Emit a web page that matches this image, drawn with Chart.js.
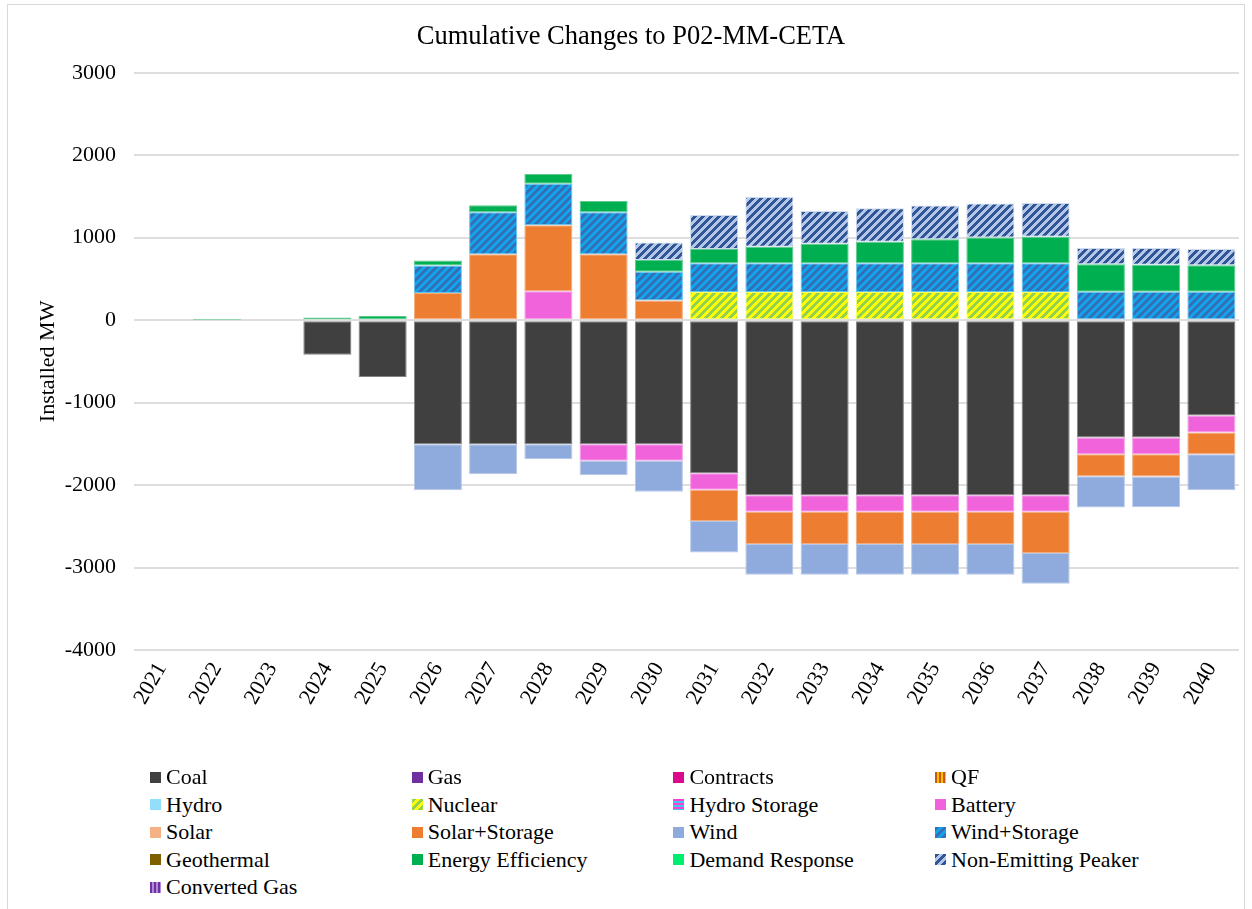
<!DOCTYPE html>
<html lang="en">
<head>
<meta charset="UTF-8">
<title>Cumulative Changes to P02-MM-CETA</title>
<script src="https://cdn.jsdelivr.net/npm/chart.js@4.4.0/dist/chart.umd.min.js"></script>
<style>
    html, body { margin: 0; padding: 0; background: #fff; }
    body { width: 1252px; height: 909px; overflow: hidden; position: relative; font-family: "Liberation Serif", "DejaVu Serif", serif; }
    #frame { position: absolute; left: 7px; top: 4px; width: 1236px; height: 912px; border: 1px solid #d9d9d9; }
    #chart-box { position: absolute; left: 0; top: 0; width: 1236px; height: 760px; }
    .legend-item { position: absolute; height: 24px; line-height: 24px; display: flex; align-items: center; font-size: 22px; color: #000; white-space: nowrap; }
    .legend-item canvas { width: 11px; height: 11px; margin-right: 5px; }
</style>
</head>
<body>
<div id="frame">
    <div id="chart-box"><canvas id="changes-chart"></canvas></div>
    <div id="legend"></div>
</div>
<script>
// Jahre (Kategorien)
const years = ['2021', '2022', '2023', '2024', '2025', '2026', '2027', '2028', '2029', '2030',
               '2031', '2032', '2033', '2034', '2035', '2036', '2037', '2038', '2039', '2040'];

// Kumulierte Änderungen in MW je Ressource
const coal          = [0, 0, 0, -420, -690, -1505, -1505, -1505, -1505, -1505, -1857, -2124, -2124, -2124, -2124, -2124, -2124, -1424, -1424, -1157];
const gas           = [0, 0, 0, 0, 0, 0, 0, 0, 0, 0, 0, 0, 0, 0, 0, 0, 0, 0, 0, 0];
const contracts     = [0, 0, 0, 0, 0, 0, 0, 0, 0, 0, 0, 0, 0, 0, 0, 0, 0, 0, 0, 0];
const qf            = [0, 0, 0, 0, 0, 0, 0, 0, 0, 0, 0, 0, 0, 0, 0, 0, 0, 0, 0, 0];
const hydro         = [0, 0, 0, 0, 0, 0, 0, 0, 0, 0, 0, 0, 0, 0, 0, 0, 0, 0, 0, 0];
const nuclear       = [0, 0, 0, 0, 0, 0, 0, 0, 0, 0, 343, 343, 343, 343, 343, 343, 343, 0, 0, 0];
const hydroStorage  = [0, 0, 0, 0, 0, 0, 0, 0, 0, 0, 0, 0, 0, 0, 0, 0, 0, 0, 0, 0];
const battery       = [0, 0, 0, 0, 0, 0, 0, 350, -200, -200, -200, -200, -200, -200, -200, -200, -200, -202, -202, -206];
const solar         = [0, 0, 0, 0, 0, 0, 0, 0, 0, 0, 0, 0, 0, 0, 0, 0, 0, 0, 0, 0];
const solarStorage  = [0, 0, 0, 0, 0, 331, 800, 800, 800, 240, -380, -390, -390, -390, -390, -390, -500, -267, -271, -263];
const wind          = [0, 0, 0, 0, 0, -558, -364, -178, -174, -376, -381, -372, -372, -372, -372, -372, -372, -380, -372, -437];
const windStorage   = [0, 0, 0, 0, 0, 333, 510, 505, 510, 348, 347, 347, 347, 347, 347, 347, 347, 345, 345, 345];
const geothermal    = [0, 0, 0, 0, 0, 0, 0, 0, 0, 0, 0, 0, 0, 0, 0, 0, 0, 0, 0, 0];
const efficiency    = [0, 2, 10, 32, 50, 60, 85, 118, 136, 142, 172, 200, 236, 262, 290, 314, 322, 332, 328, 320];
const demandResp    = [0, 0, 0, 0, 0, 0, 0, 0, 0, 0, 0, 0, 0, 0, 0, 0, 0, 0, 0, 0];
const peaker        = [0, 0, 0, 0, 0, 0, 0, 0, 0, 213, 412, 603, 397, 406, 410, 410, 410, 198, 202, 198];
const convertedGas  = [0, 0, 0, 0, 0, 0, 0, 0, 0, 0, 0, 0, 0, 0, 0, 0, 0, 0, 0, 0];

// Achsenbereich
const yMin = -4000;
const yMax = 3000;
const yStep = 1000;

const FONT = '"Liberation Serif", "Times New Roman", serif';

// Reihen in Stapel-/Legendenreihenfolge mit Füllung
const series = [
    { name: 'Coal',                values: coal,         fill: { type: 'solid', color: '#404040' } },
    { name: 'Gas',                 values: gas,          fill: { type: 'solid', color: '#7030A0' } },
    { name: 'Contracts',           values: contracts,    fill: { type: 'solid', color: '#DB0A8C' } },
    { name: 'QF',                  values: qf,           fill: { type: 'vert',  a: '#C55A11', b: '#FFC000' } },
    { name: 'Hydro',               values: hydro,        fill: { type: 'solid', color: '#93DFFB' } },
    { name: 'Nuclear',             values: nuclear,      fill: { type: 'diag',  a: '#92D050', b: '#FFFF00' } },
    { name: 'Hydro Storage',       values: hydroStorage, fill: { type: 'horiz', a: '#FF40D0', b: '#3FC8F5' } },
    { name: 'Battery',             values: battery,      fill: { type: 'solid', color: '#F163DB' } },
    { name: 'Solar',               values: solar,        fill: { type: 'solid', color: '#F4B183' } },
    { name: 'Solar+Storage',       values: solarStorage, fill: { type: 'solid', color: '#ED7D31' } },
    { name: 'Wind',                values: wind,         fill: { type: 'solid', color: '#8FAADC' } },
    { name: 'Wind+Storage',        values: windStorage,  fill: { type: 'diag',  a: '#3270B8', b: '#12A3EA' } },
    { name: 'Geothermal',          values: geothermal,   fill: { type: 'solid', color: '#7F6000' } },
    { name: 'Energy Efficiency',   values: efficiency,   fill: { type: 'solid', color: '#00B050' } },
    { name: 'Demand Response',     values: demandResp,   fill: { type: 'solid', color: '#00EE70' } },
    { name: 'Non-Emitting Peaker', values: peaker,       fill: { type: 'diag',  a: '#2F5597', b: '#B4C7E7' } },
    { name: 'Converted Gas',       values: convertedGas, fill: { type: 'vert',  a: '#7030A0', b: '#B18BDB' } }
];

// Farbe mit Weiß mischen (für die hellen Balkenränder)
function lighten(hex, t) {
    const n = parseInt(hex.slice(1), 16);
    const r = (n >> 16) & 255, g = (n >> 8) & 255, b = n & 255;
    const mix = c => Math.round(c + (255 - c) * t);
    return `rgb(${mix(r)}, ${mix(g)}, ${mix(b)})`;
}

// Muster-Kachel erzeugen (Schraffur wie in Excel)
function makeFill(ctx, fill) {
    if (fill.type === 'solid') return fill.color;
    const tile = document.createElement('canvas');
    tile.width = 8;
    tile.height = 8;
    const t = tile.getContext('2d');
    for (let y = 0; y < 8; y++) {
        for (let x = 0; x < 8; x++) {
            let useA;
            if (fill.type === 'diag') useA = ((x + y) % 8) < 4;
            else if (fill.type === 'vert') useA = (x % 4) < 2;
            else useA = (y % 4) < 2;
            t.fillStyle = useA ? fill.a : fill.b;
            t.fillRect(x, y, 1, 1);
        }
    }
    return ctx.createPattern(tile, 'repeat');
}

function baseColor(fill) {
    return fill.type === 'solid' ? fill.color : fill.b;
}

document.addEventListener('DOMContentLoaded', () => {
    const canvas = document.getElementById('changes-chart');
    const ctx = canvas.getContext('2d');

    const datasets = series.map(s => ({
        label: s.name,
        data: s.values.map(v => (v === 0 ? null : v)),
        backgroundColor: makeFill(ctx, s.fill),
        borderColor: lighten(baseColor(s.fill), 0.35),
        borderWidth: 1,
        borderSkipped: false,
        categoryPercentage: 1,
        barPercentage: 0.87
    }));

    new Chart(ctx, {
        type: 'bar',
        data: { labels: years, datasets: datasets },
        options: {
            responsive: true,
            maintainAspectRatio: false,
            animation: false,
            layout: { padding: { left: 15, right: 5, top: 0, bottom: 0 } },
            plugins: {
                legend: { display: false },
                tooltip: { enabled: false },
                title: {
                    display: true,
                    text: 'Cumulative Changes to P02-MM-CETA',
                    color: '#000',
                    font: { family: FONT, size: 26.5, weight: 'normal', lineHeight: 1.2 },
                    padding: { top: 16, bottom: 20 }
                }
            },
            scales: {
                x: {
                    stacked: true,
                    grid: { display: false, drawTicks: false },
                    border: { display: false },
                    ticks: {
                        color: '#000',
                        font: { family: FONT, size: 22 },
                        minRotation: 60,
                        maxRotation: 60,
                        autoSkip: false,
                        padding: 8
                    },
                    afterFit: scale => { scale.height = 115; }
                },
                y: {
                    stacked: true,
                    min: yMin,
                    max: yMax,
                    ticks: {
                        stepSize: yStep,
                        color: '#000',
                        font: { family: FONT, size: 22 },
                        padding: 18,
                        callback: value => String(value)
                    },
                    grid: { color: '#dedede', lineWidth: 2, drawTicks: false },
                    border: { display: false },
                    title: {
                        display: true,
                        text: 'Installed MW',
                        color: '#000',
                        font: { family: FONT, size: 22, lineHeight: 1.2 },
                        padding: { top: 12, bottom: 0 }
                    },
                    afterFit: scale => { scale.width = 111; }
                }
            }
        }
    });

    // Legende in vier Spalten unter dem Diagramm
    const legend = document.getElementById('legend');
    series.forEach((s, i) => {
        const col = i % 4;
        const row = Math.floor(i / 4);
        const item = document.createElement('div');
        item.className = 'legend-item';
        item.style.left = `${142 + col * 261.7}px`;
        item.style.top = `${760 + row * 27.6}px`;

        const swatch = document.createElement('canvas');
        swatch.width = 11;
        swatch.height = 11;
        const sctx = swatch.getContext('2d');
        sctx.fillStyle = makeFill(sctx, s.fill);
        sctx.fillRect(0, 0, 11, 11);

        const text = document.createElement('span');
        text.textContent = s.name;

        item.appendChild(swatch);
        item.appendChild(text);
        legend.appendChild(item);
    });
});
</script>
</body>
</html>
